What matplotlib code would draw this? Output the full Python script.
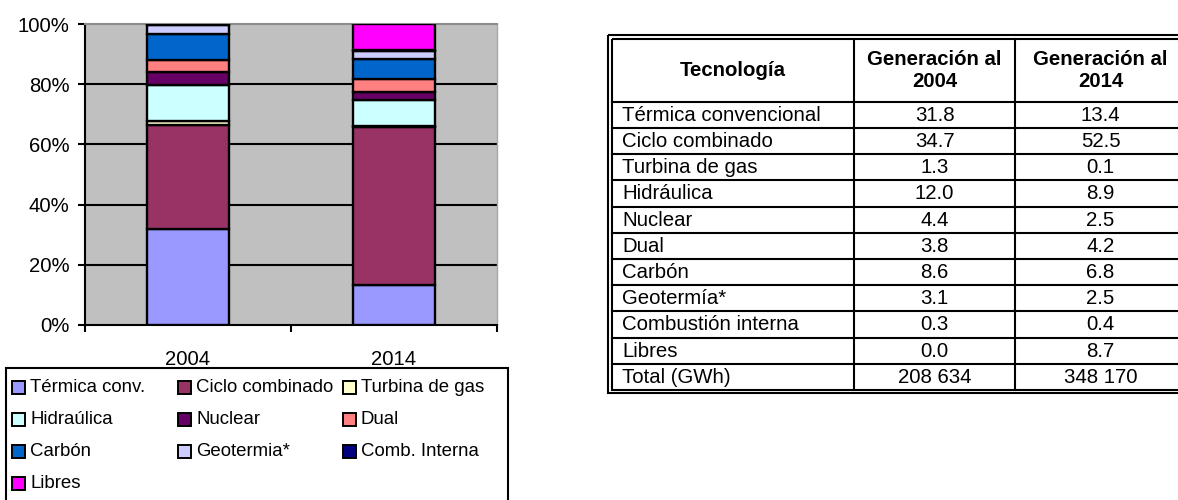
import numpy as np
import matplotlib
matplotlib.use("Agg")
import matplotlib.pyplot as plt
from matplotlib.patches import Rectangle

plt.rcParams['font.family'] = ['Liberation Sans', 'DejaVu Sans']

# data
years = ["2004", "2014"]
legend_labels = ["Térmica conv.", "Ciclo combinado", "Turbina de gas", "Hidraúlica",
                 "Nuclear", "Dual", "Carbón", "Geotermia*", "Comb. Interna", "Libres"]
table_names = ["Térmica convencional", "Ciclo combinado", "Turbina de gas", "Hidráulica",
               "Nuclear", "Dual", "Carbón", "Geotermía*", "Combustión interna", "Libres"]
gen_2004 = [31.8, 34.7, 1.3, 12.0, 4.4, 3.8, 8.6, 3.1, 0.3, 0.0]
gen_2014 = [13.4, 52.5, 0.1, 8.9, 2.5, 4.2, 6.8, 2.5, 0.4, 8.7]
total_gwh = [208634, 348170]
colors = ["#9999FF", "#993366", "#FFFFCC", "#CCFFFF", "#660066",
          "#FF8080", "#0066CC", "#CCCCFF", "#000080", "#FF00FF"]

W, H = 1178, 500
fig = plt.figure(figsize=(W / 100, H / 100), dpi=100)

# ---- stacked bar chart ----
ax = fig.add_axes([85 / W, (H - 325) / H, 412 / W, 301 / H])
ax.set_facecolor("#C0C0C0")
x = np.arange(len(years))
series = np.array([gen_2004, gen_2014]).T
totals = series.sum(axis=0)
bottoms = np.zeros(len(years))
for i in range(len(legend_labels)):
    vals = series[i] / totals * 100
    ax.bar(x, vals, bottom=bottoms, width=0.4, color=colors[i],
           edgecolor="black", linewidth=1.7, zorder=3)
    bottoms += vals

ax.set_xlim(-0.5, 1.5)
ax.set_ylim(0, 100)
ax.hlines([20, 40, 60, 80], -0.5, 1.5, colors="black", linewidth=1.5, zorder=1)
ax.set_yticks([0, 20, 40, 60, 80, 100])
ax.set_yticklabels(["0%", "20%", "40%", "60%", "80%", "100%"], fontsize=14.6)
ax.tick_params(axis="y", length=5, width=1.5, pad=6)
ax.set_xticks([-0.5, 0.5, 1.5])
ax.set_xticklabels([])
ax.tick_params(axis="x", which="major", length=5, width=1.5)
ax.set_xticks(x, minor=True)
ax.set_xticklabels(years, minor=True, fontsize=14.6)
ax.tick_params(axis="x", which="minor", length=0, pad=18)
for s in ["left", "bottom"]:
    ax.spines[s].set_linewidth(1.5)
    ax.spines[s].set_color("black")
ax.spines["top"].set_color("#8C8C8C")
ax.spines["top"].set_linewidth(1.5)
ax.spines["right"].set_color("#A8A8A8")
ax.spines["right"].set_linewidth(1.0)

# ---- overlay in pixel coordinates for legend and table ----
ov = fig.add_axes([0, 0, 1, 1], zorder=5)
ov.set_xlim(0, W)
ov.set_ylim(H, 0)
ov.axis("off")

# legend (row-wise, 3 columns)
ov.add_patch(Rectangle((6, 368), 502, 145, facecolor="white", edgecolor="black",
                       linewidth=1.5, clip_on=False))
col_x = [12, 178, 343]
row_y = [387, 419, 451, 483]
for k, lab in enumerate(legend_labels):
    r, c = divmod(k, 3)
    ov.add_patch(Rectangle((col_x[c], row_y[r] - 6.5), 13, 13, facecolor=colors[k],
                           edgecolor="black", linewidth=1.4))
    ov.text(col_x[c] + 18, row_y[r], lab, fontsize=13.4, va="center", ha="left")

# table
lw = 1.5
left_o, left_i = 608, 612
top_o, top_i = 35, 39
right_i, right_o = 1186, 1190
head_bot = 101.7
row_h = 26.2
n_rows = len(table_names) + 1
bot_i = head_bot + n_rows * row_h
bot_o = bot_i + 3.5
col_sep = [854, 1015]

ov.add_patch(Rectangle((left_o, top_o), right_o - left_o, bot_o - top_o, fill=False,
                       edgecolor="black", linewidth=lw))
ov.add_patch(Rectangle((left_i, top_i), right_i - left_i, bot_i - top_i, fill=False,
                       edgecolor="black", linewidth=lw))
for cx in col_sep:
    ov.plot([cx, cx], [top_i, bot_i], color="black", linewidth=lw)
ov.plot([left_i, right_i], [head_bot, head_bot], color="black", linewidth=lw)
for r in range(1, n_rows):
    yy = head_bot + r * row_h
    ov.plot([left_i, right_i], [yy, yy], color="black", linewidth=lw)

col_c = [(left_i + col_sep[0]) / 2, (col_sep[0] + col_sep[1]) / 2, (col_sep[1] + right_i) / 2]
hy = (top_i + head_bot) / 2
ov.text(col_c[0], hy, "Tecnología", fontsize=14.7, fontweight="bold", ha="center", va="center")
for j, yr in enumerate(years):
    ov.text(col_c[j + 1], hy, "Generación al\n" + yr, fontsize=14.7, fontweight="bold",
            ha="center", va="center", linespacing=1.2)

rows = [(name, f"{a:.1f}", f"{b:.1f}") for name, a, b in zip(table_names, gen_2004, gen_2014)]
rows.append(("Total (GWh)",) + tuple(f"{t:,}".replace(",", " ") for t in total_gwh))
for r, (name, v1, v2) in enumerate(rows):
    yy = head_bot + (r + 0.5) * row_h + 0.5
    ov.text(left_i + 10, yy, name, fontsize=14.7, ha="left", va="center")
    ov.text(col_c[1], yy, v1, fontsize=14.7, ha="center", va="center")
    ov.text(col_c[2], yy, v2, fontsize=14.7, ha="center", va="center")

fig.savefig("out.png", dpi=100)
